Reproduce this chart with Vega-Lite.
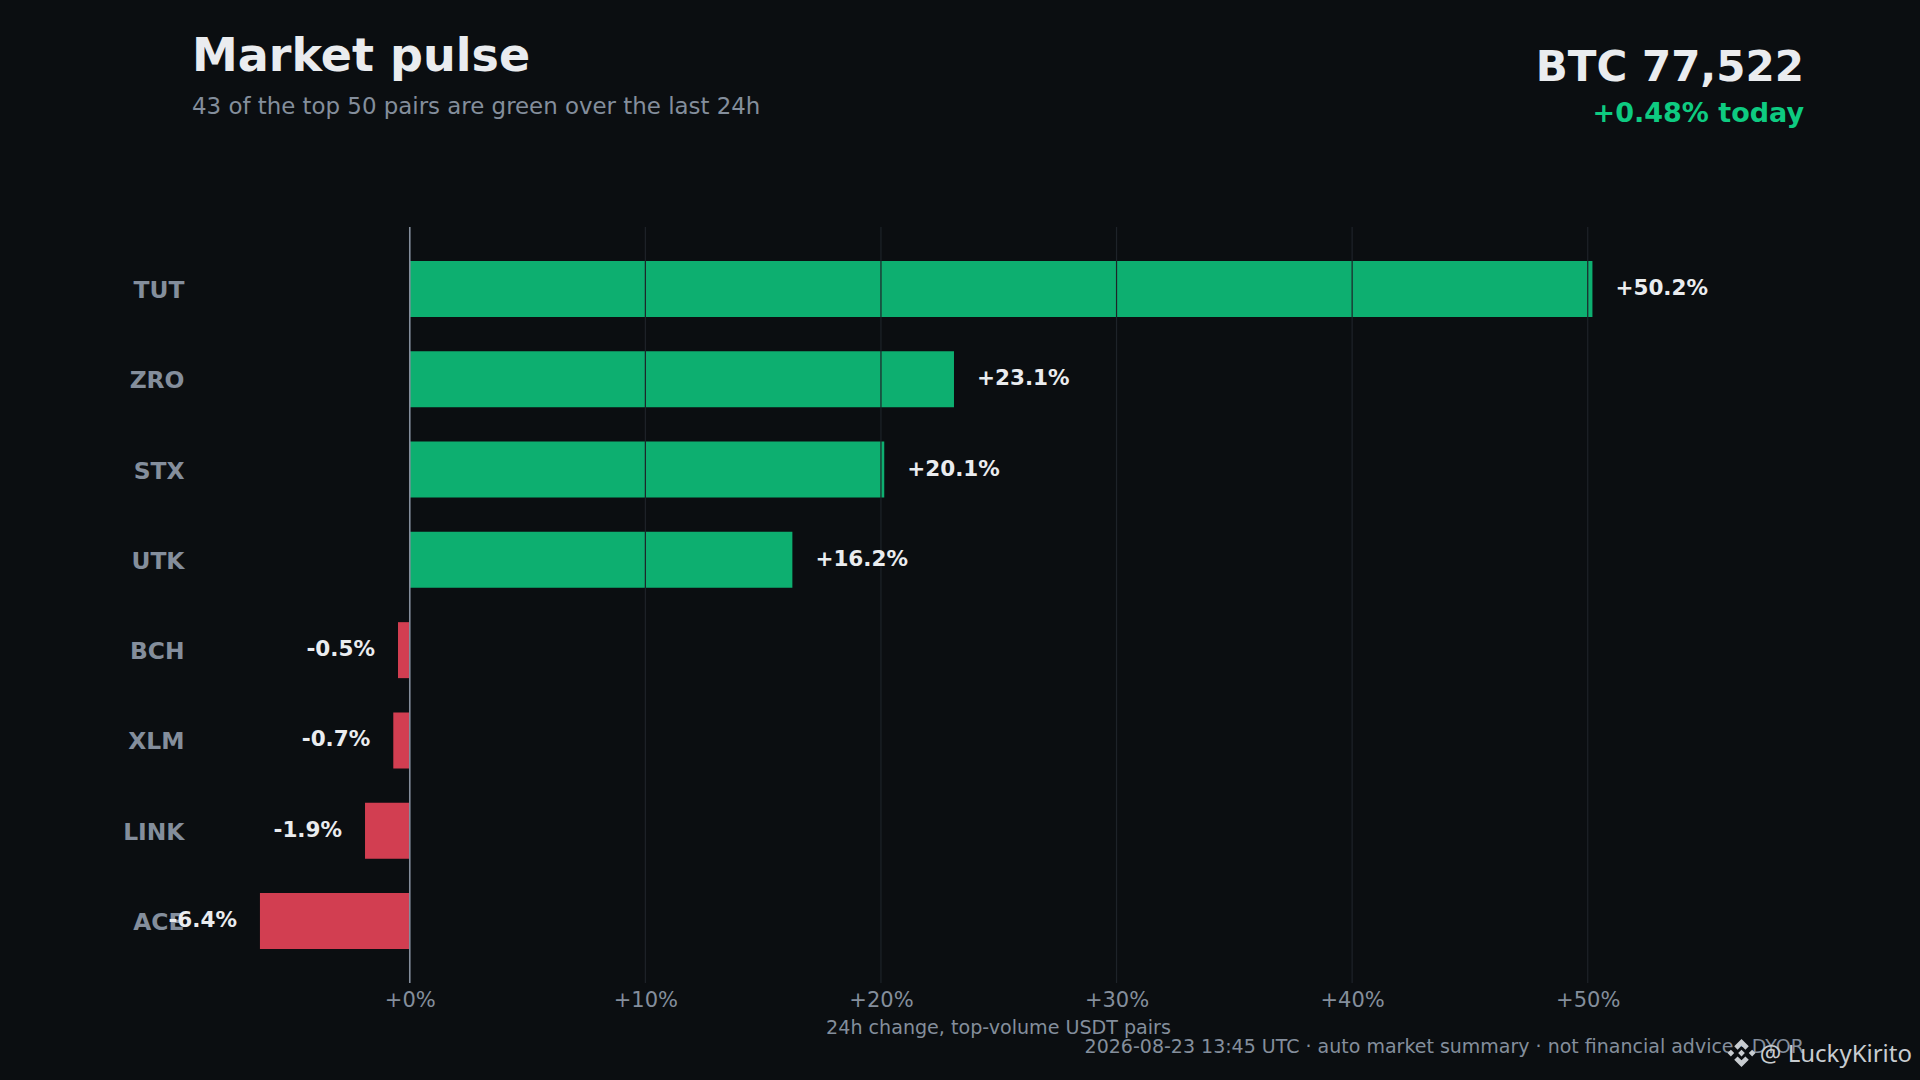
{
  "$schema": "https://vega.github.io/schema/vega-lite/v6.json",
  "width": 1612,
  "height": 756,
  "autosize": {"type": "none"},
  "padding": {"left": 192, "top": 227, "right": 116, "bottom": 97},
  "background": "#0b0e11",
  "view": {"stroke": null},
  "datasets": {
    "pairs": [
      {"pair": "TUT", "change": 50.2, "label": "+50.2%", "direction": "up"},
      {"pair": "ZRO", "change": 23.1, "label": "+23.1%", "direction": "up"},
      {"pair": "STX", "change": 20.14, "label": "+20.1%", "direction": "up"},
      {"pair": "UTK", "change": 16.24, "label": "+16.2%", "direction": "up"},
      {"pair": "BCH", "change": -0.5, "label": "-0.5%", "direction": "down"},
      {"pair": "XLM", "change": -0.7, "label": "-0.7%", "direction": "down"},
      {"pair": "LINK", "change": -1.9, "label": "-1.9%", "direction": "down"},
      {"pair": "ACE", "change": -6.36, "label": "-6.4%", "direction": "down"}
    ],
    "gridlines": [
      {"tick": 0, "kind": "zero"},
      {"tick": 10, "kind": "grid"},
      {"tick": 20, "kind": "grid"},
      {"tick": 30, "kind": "grid"},
      {"tick": 40, "kind": "grid"},
      {"tick": 50, "kind": "grid"}
    ]
  },
  "data": {"name": "pairs"},
  "layer": [
    {
      "mark": {"type": "bar", "opacity": 0.85},
      "encoding": {
        "y": {
          "field": "pair",
          "type": "nominal",
          "sort": null,
          "title": null,
          "scale": {
            "domain": ["TUT", "ZRO", "STX", "UTK", "BCH", "XLM", "LINK", "ACE"],
            "paddingInner": 0.38,
            "paddingOuter": 0.376
          },
          "axis": {
            "domain": false,
            "ticks": false,
            "grid": false,
            "labelFont": "DejaVu Sans",
            "labelFontSize": 23.4,
            "labelFontWeight": "bold",
            "labelColor": "#848e9c",
            "labelPadding": 8,
            "labelOffset": 2
          }
        },
        "x": {
          "field": "change",
          "type": "quantitative",
          "title": "24h change, top-volume USDT pairs",
          "scale": {"domain": [-9.244, 59.18], "nice": false, "zero": false},
          "axis": {
            "values": [0, 10, 20, 30, 40, 50],
            "labelExpr": "'+' + datum.value + '%'",
            "domain": false,
            "ticks": false,
            "grid": false,
            "labelFont": "DejaVu Sans",
            "labelFontSize": 21,
            "labelColor": "#848e9c",
            "labelPadding": 6,
            "titleFont": "DejaVu Sans",
            "titleFontSize": 19.1,
            "titleFontWeight": "normal",
            "titleColor": "#848e9c",
            "titlePadding": 8
          }
        },
        "color": {
          "field": "direction",
          "type": "nominal",
          "legend": null,
          "scale": {"domain": ["up", "down"], "range": ["#0ecb81", "#f6465d"]}
        }
      }
    },
    {
      "data": {"name": "gridlines"},
      "transform": [{"filter": "datum.kind === 'grid'"}],
      "mark": {"type": "rule", "color": "#1e2329", "strokeWidth": 1.2},
      "encoding": {
        "x": {"field": "tick", "type": "quantitative", "title": "24h change, top-volume USDT pairs"}
      }
    },
    {
      "data": {"name": "gridlines"},
      "transform": [{"filter": "datum.kind === 'zero'"}],
      "mark": {"type": "rule", "color": "#848e9c", "strokeWidth": 1.6},
      "encoding": {
        "x": {"field": "tick", "type": "quantitative", "title": "24h change, top-volume USDT pairs"}
      }
    },
    {
      "transform": [{"filter": "datum.change >= 0"}],
      "mark": {"type": "text", "align": "left", "baseline": "middle", "dx": 23, "dy": 0, "font": "DejaVu Sans", "fontSize": 21.5, "fontWeight": "bold", "color": "#eaecef"},
      "encoding": {
        "y": {"field": "pair", "type": "nominal", "sort": null},
        "x": {"field": "change", "type": "quantitative", "title": "24h change, top-volume USDT pairs"},
        "text": {"field": "label", "type": "nominal"}
      }
    },
    {
      "transform": [{"filter": "datum.change < 0"}],
      "mark": {"type": "text", "align": "right", "baseline": "middle", "dx": -23, "dy": 0, "font": "DejaVu Sans", "fontSize": 21.5, "fontWeight": "bold", "color": "#eaecef"},
      "encoding": {
        "y": {"field": "pair", "type": "nominal", "sort": null},
        "x": {"field": "change", "type": "quantitative", "title": "24h change, top-volume USDT pairs"},
        "text": {"field": "label", "type": "nominal"}
      }
    },
    {
      "data": {"values": [{"note": "Market pulse"}]},
      "mark": {"type": "text", "align": "left", "baseline": "middle", "dy": -232, "font": "DejaVu Sans", "fontSize": 46, "fontWeight": "bold", "color": "#eaecef"},
      "encoding": {
        "text": {"field": "note", "type": "nominal"},
        "x": {"datum": -9.244, "type": "quantitative"},
        "y": {"datum": "TUT", "type": "nominal"}
      }
    },
    {
      "data": {"values": [{"note": "43 of the top 50 pairs are green over the last 24h"}]},
      "mark": {"type": "text", "align": "left", "baseline": "middle", "dy": -182, "font": "DejaVu Sans", "fontSize": 22.9, "color": "#848e9c"},
      "encoding": {
        "text": {"field": "note", "type": "nominal"},
        "x": {"datum": -9.244, "type": "quantitative"},
        "y": {"datum": "TUT", "type": "nominal"}
      }
    },
    {
      "data": {"values": [{"note": "BTC 77,522"}]},
      "mark": {"type": "text", "align": "right", "baseline": "middle", "dy": -221, "font": "DejaVu Sans", "fontSize": 42, "fontWeight": "bold", "color": "#eaecef"},
      "encoding": {
        "text": {"field": "note", "type": "nominal"},
        "x": {"datum": 59.18, "type": "quantitative"},
        "y": {"datum": "TUT", "type": "nominal"}
      }
    },
    {
      "data": {"values": [{"note": "+0.48% today"}]},
      "mark": {"type": "text", "align": "right", "baseline": "middle", "dy": -175, "font": "DejaVu Sans", "fontSize": 27, "fontWeight": "bold", "color": "#0ecb81"},
      "encoding": {
        "text": {"field": "note", "type": "nominal"},
        "x": {"datum": 59.18, "type": "quantitative"},
        "y": {"datum": "TUT", "type": "nominal"}
      }
    },
    {
      "data": {"values": [{"note": "2026-08-23 13:45 UTC · auto market summary · not financial advice · DYOR"}]},
      "mark": {"type": "text", "align": "right", "baseline": "middle", "dy": 126, "font": "DejaVu Sans", "fontSize": 19, "color": "#848e9c"},
      "encoding": {
        "text": {"field": "note", "type": "nominal"},
        "x": {"datum": 59.18, "type": "quantitative"},
        "y": {"datum": "ACE", "type": "nominal"}
      }
    },
    {
      "data": {"values": [{"note": "@ LuckyKirito"}]},
      "mark": {"type": "text", "align": "right", "baseline": "middle", "dx": 108, "dy": 134, "font": "Noto Sans", "fontSize": 24, "color": "#c8ccd0"},
      "encoding": {
        "text": {"field": "note", "type": "nominal"},
        "x": {"datum": 59.18, "type": "quantitative"},
        "y": {"datum": "ACE", "type": "nominal"}
      }
    },
    {
      "data": {"values": [{"note": "logo"}]},
      "mark": {
        "type": "point",
        "filled": true,
        "opacity": 1,
        "color": "#c8ccd0",
        "size": 784,
        "xOffset": -62.5,
        "yOffset": 132,
        "shape": "M0,-0.24L0.24,0L0,0.24L-0.24,0ZM0,-1L0.52,-0.48L0.28,-0.24L0,-0.52L-0.28,-0.24L-0.52,-0.48ZM0,1L0.52,0.48L0.28,0.24L0,0.52L-0.28,0.24L-0.52,0.48ZM-1,0L-0.76,-0.24L-0.52,0L-0.76,0.24ZM1,0L0.76,-0.24L0.52,0L0.76,0.24Z"
      },
      "encoding": {
        "x": {"datum": 59.18, "type": "quantitative"},
        "y": {"datum": "ACE", "type": "nominal"}
      }
    }
  ]
}
